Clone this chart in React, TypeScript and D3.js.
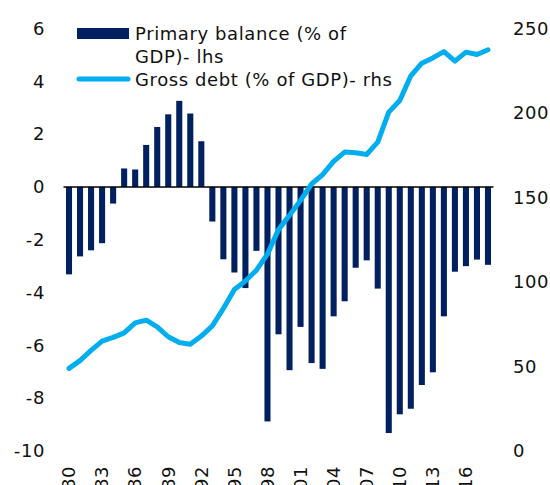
import React, { useEffect, useRef } from "react";
import * as d3 from "d3";

const years = d3.range(1980, 2019);

// primary balance, % of GDP (left axis)
const primaryBalance = [
  -3.31, -2.63, -2.4, -2.13, -0.63, 0.7, 0.66, 1.59, 2.27, 2.75,
  3.26, 2.78, 1.73, -1.31, -2.74, -3.24, -3.83, -2.42, -8.88, -5.58,
  -6.94, -5.3, -6.67, -6.89, -4.9, -4.33, -3.06, -2.78, -3.85, -9.32,
  -8.61, -8.4, -7.5, -7.02, -4.9, -3.21, -3.0, -2.75, -2.95,
];

// gross debt, % of GDP (right axis)
const grossDebt = [
  48.9, 53.5, 59.5, 65.0, 67.2, 69.9, 75.8, 77.4, 73.5, 67.6,
  64.2, 63.2, 68.0, 74.0, 84.3, 95.6, 100.6, 107.0, 116.5, 131.0,
  139.5, 148.3, 158.0, 163.5, 171.4, 176.9, 176.5, 175.5, 182.8, 200.5,
  207.4, 222.0, 229.5, 232.6, 236.3, 230.7, 236.0, 234.6, 237.4,
];

const leftTicks = [6, 4, 2, 0, -2, -4, -6, -8, -10];
const rightTicks = [250, 200, 150, 100, 50, 0];
const labelYears = d3.range(1980, 2019, 3);

const W = 550;
const H = 485;
const FONT = "'DejaVu Sans', Verdana, sans-serif";
const BAR = "#002060";
const LINE = "#00aeef";

const App = () => {
  const ref = useRef(null);

  useEffect(() => {
    const svg = d3.select(ref.current);
    svg.selectAll("*").remove();

    const x = d3
      .scaleBand()
      .domain(years.map(String))
      .range([63.5, 493.5])
      .paddingInner(0.45)
      .paddingOuter(0.225);

    const yL = d3.scaleLinear().domain([-10, 6]).range([451, 28.5]);
    const yR = d3.scaleLinear().domain([0, 250]).range([451, 28.5]);

    const cx = (yr) => x(String(yr)) + x.bandwidth() / 2;

    // bars
    svg
      .append("g")
      .selectAll("rect")
      .data(primaryBalance)
      .join("rect")
      .attr("x", (d, i) => x(String(years[i])))
      .attr("width", x.bandwidth())
      .attr("y", (d) => yL(Math.max(0, d)))
      .attr("height", (d) => Math.abs(yL(d) - yL(0)))
      .attr("fill", BAR);

    // zero line
    svg
      .append("line")
      .attr("x1", 63.5)
      .attr("x2", 493.5)
      .attr("y1", yL(0))
      .attr("y2", yL(0))
      .attr("stroke", "#000")
      .attr("stroke-width", 1.5);

    // debt line
    const line = d3
      .line()
      .x((d, i) => cx(years[i]))
      .y((d) => yR(d));
    svg
      .append("path")
      .datum(grossDebt)
      .attr("d", line)
      .attr("fill", "none")
      .attr("stroke", LINE)
      .attr("stroke-width", 5)
      .attr("stroke-linejoin", "round")
      .attr("stroke-linecap", "round");

    const txt = (g) =>
      g
        .attr("font-family", FONT)
        .attr("font-size", 18)
        .attr("letter-spacing", 0.6)
        .attr("fill", "#111");

    // left axis labels
    svg
      .append("g")
      .call(txt)
      .selectAll("text")
      .data(leftTicks)
      .join("text")
      .attr("x", 45)
      .attr("y", (d) => yL(d))
      .attr("dy", "0.35em")
      .attr("text-anchor", "end")
      .text((d) => d);

    // right axis labels
    svg
      .append("g")
      .call(txt)
      .selectAll("text")
      .data(rightTicks)
      .join("text")
      .attr("x", 513)
      .attr("y", (d) => yR(d))
      .attr("dy", "0.35em")
      .attr("text-anchor", "start")
      .text((d) => d);

    // x labels, rotated
    svg
      .append("g")
      .call(txt)
      .selectAll("text")
      .data(labelYears)
      .join("text")
      .attr("transform", (d) => `translate(${cx(d)},466) rotate(-90)`)
      .attr("dy", "0.35em")
      .attr("text-anchor", "end")
      .text((d) => String(d).slice(2));

    // legend
    const lg = svg.append("g").call(txt);
    lg.append("rect")
      .attr("x", 77)
      .attr("y", 28)
      .attr("width", 52)
      .attr("height", 11)
      .attr("fill", BAR);
    lg.append("line")
      .attr("x1", 79)
      .attr("x2", 128)
      .attr("y1", 79)
      .attr("y2", 79)
      .attr("stroke", LINE)
      .attr("stroke-width", 5)
      .attr("stroke-linecap", "round");
    lg.append("text").attr("x", 135).attr("y", 40).text("Primary balance (% of");
    lg.append("text").attr("x", 135).attr("y", 63).text("GDP)- lhs");
    lg.append("text").attr("x", 135).attr("y", 86).text("Gross debt (% of GDP)- rhs");
  }, []);

  return (
    <div style={{ position: "absolute", left: 0, top: 0 }}>
      <svg ref={ref} width={W} height={H} style={{ display: "block", background: "#fff" }} />
    </div>
  );
};

export default App;
